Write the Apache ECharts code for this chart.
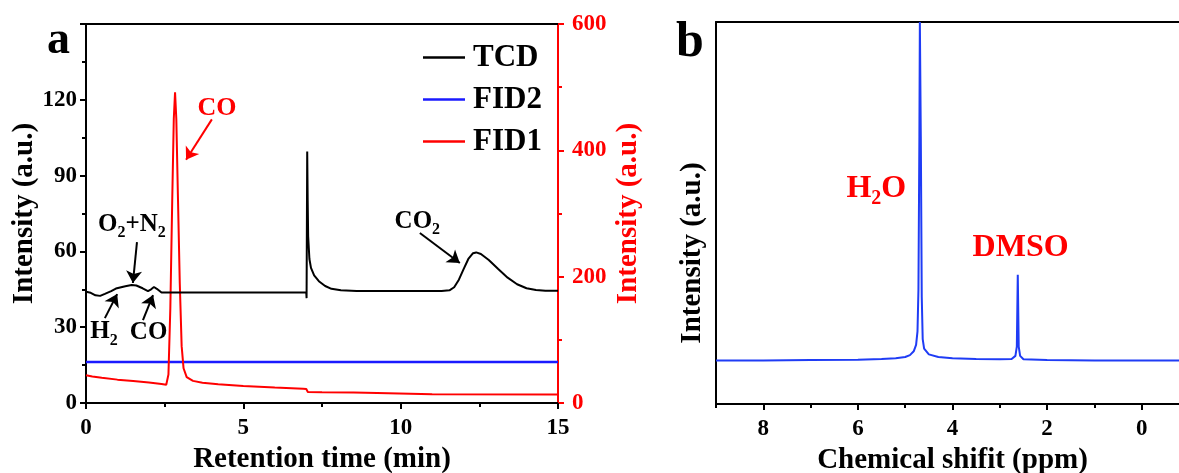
<!DOCTYPE html>
<html>
<head>
<meta charset="utf-8">
<title>GC and NMR</title>
<script src="https://cdn.jsdelivr.net/npm/echarts@6/dist/echarts.min.js"></script>
<style>
  html, body { margin: 0; padding: 0; background: #fff; }
  #chart { width: 1179px; height: 473px; }
</style>
</head>
<body>
<div id="chart"></div>
<script>
// ---- panel a: gas chromatogram (retention time in min) ----
const tcdTime = [0.00, 0.15, 0.30, 0.45, 0.60, 0.80, 0.95, 1.05, 1.25, 1.45, 1.60, 1.80, 1.97, 2.07, 2.16, 2.25, 2.40, 2.60, 4.00, 5.50, 7.00,
  7.01, 7.02, 7.03, 7.045, 7.06, 7.10, 7.15, 7.25, 7.40, 7.60, 7.80, 8.10, 8.60, 10.0, 11.3, 11.55, 11.7, 11.85, 12.0, 12.15, 12.3, 12.4,
  12.55, 12.8, 13.1, 13.4, 13.7, 14.0, 14.3, 14.6, 15.0];
const tcdSignal = [44.0, 43.6, 42.6, 42.4, 43.2, 44.3, 45.3, 45.6, 46.2, 46.7, 46.5, 45.4, 44.3, 45.0, 45.9, 45.2, 43.7, 43.7, 43.7, 43.7, 43.7,
  41.5, 41.5, 99.5, 80, 66, 57, 53.5, 50.5, 48.2, 46.3, 45.2, 44.6, 44.3, 44.3, 44.3, 44.6, 45.8, 48.8, 53.0, 57.0, 59.3, 59.6,
  59.0, 56.6, 53.0, 49.6, 47.0, 45.4, 44.7, 44.4, 44.4];

const fid1Time = [0.00, 0.2, 0.5, 1.0, 1.5, 2.0, 2.4, 2.55, 2.62, 2.68, 2.74, 2.79, 2.83, 2.87, 2.92, 2.98, 3.04, 3.10, 3.2, 3.4, 3.7,
  4.2, 5.0, 6.0, 6.9, 7.0, 7.05, 7.5, 8.5, 9.25, 9.3, 11.0, 15.0];
const fid1Signal = [44, 42, 40, 37, 35, 32.5, 30, 29, 45, 150, 320, 450, 492, 450, 330, 190, 90, 55, 41, 35, 32,
  29.5, 27, 24.5, 22.5, 22, 17.5, 17, 16.5, 16, 14, 13.7, 13.5];

const fid2Time = [0, 15];
const fid2Signal = [65, 65];

// ---- panel b: 1H NMR (chemical shift in ppm) ----
const nmrShift = [9.0, 8.0, 7.0, 6.0, 5.5, 5.2, 5.0, 4.9, 4.82, 4.77, 4.74, 4.72, 4.70, 4.69, 4.68, 4.67, 4.65, 4.63, 4.60, 4.50, 4.30,
  4.00, 3.50, 3.00, 2.75, 2.67, 2.64, 2.62, 2.60, 2.57, 2.50, 2.00, 1.00, 0.00, -1.00];
const nmrSignal = [11.4, 11.4, 11.5, 11.6, 11.8, 12.0, 12.3, 12.8, 13.8, 15.5, 19, 30, 70, 100, 100, 70, 28, 17, 14.5, 13, 12.3,
  12.0, 11.8, 11.7, 11.8, 12.6, 15, 33.8, 15, 12.6, 11.7, 11.5, 11.4, 11.4, 11.4];

const shiftLabels = [8, 6, 4, 2, 0];
const shiftMinor = [9, 7, 5, 3, 1, -1];

// peak labels, in data coordinates
const gcLabels = [
  { text: '{m|O}{s|2}{m|+N}{s|2}', at: [1.46, 70.8], arrow: [[1.62, 63.7], [1.49, 47.5]] },
  { text: '{m|H}{s|2}', at: [0.57, 28.1], arrow: [[0.60, 33.6], [0.99, 43.1]] },
  { text: '{m|CO}', at: [1.99, 27.7], arrow: [[1.81, 32.8], [2.13, 42.7]] },
  { text: '{m|CO}{s|2}', at: [10.53, 72.0], arrow: [[10.61, 67.3], [11.88, 55.4]] }
];
const fidLabels = [
  { text: '{m|CO}', at: [4.16, 467], arrow: [[4.00, 449], [3.18, 385]] }
];
const nmrLabels = [
  { text: '{m|H}{s|2}{m|O}', at: [5.61, 56.3] },
  { text: '{m|DMSO}', at: [2.56, 40.8] }
];

const FONT = '"Liberation Serif", "Times New Roman", serif';
const pairs = (xs, ys) => xs.map((x, i) => [x, ys[i]]);

function richText(size, subSize, subDrop, color) {
  return {
    m: { fontSize: size, lineHeight: size, fontWeight: 'bold', fontFamily: FONT, color: color },
    s: { fontSize: subSize, lineHeight: subSize, fontWeight: 'bold', fontFamily: FONT, color: color, padding: [subDrop, 0, 0, 0] }
  };
}

function labelPoints(list, size, subSize, subDrop, color) {
  return {
    symbol: 'circle',
    symbolSize: 1,
    itemStyle: { color: 'rgba(0,0,0,0)' },
    silent: true,
    animation: false,
    label: { show: true, position: 'inside', formatter: p => p.data.text, rich: richText(size, subSize, subDrop, color) },
    data: list.map(d => ({ coord: d.at, text: d.text }))
  };
}

function arrows(list, color) {
  return {
    silent: true,
    animation: false,
    symbol: ['none', 'arrow'],
    symbolSize: 12,
    label: { show: false },
    itemStyle: { color: color },
    lineStyle: { color: color, width: 2, type: 'solid' },
    emphasis: { disabled: true },
    data: list.map(d => [{ coord: d.arrow[0] }, { coord: d.arrow[1] }])
  };
}

const tickLabel = { fontSize: 23, fontWeight: 'bold', fontFamily: FONT, color: '#000' };
const titleText = { fontSize: 29, fontWeight: 'bold', fontFamily: FONT, color: '#000' };

const chart = echarts.init(document.getElementById('chart'));
chart.setOption({
  animation: false,
  backgroundColor: '#fff',
  grid: [
    { left: 86, top: 24, width: 472, height: 379, outerBoundsMode: 'none' },
    { left: 716, top: 22, width: 473, height: 382, outerBoundsMode: 'none' }
  ],
  legend: {
    data: ['TCD', 'FID2', 'FID1'],
    orient: 'vertical',
    left: 418,
    top: 37,
    icon: 'rect',
    itemWidth: 42,
    itemHeight: 2.5,
    itemGap: 11,
    textStyle: { fontSize: 31, lineHeight: 31, fontWeight: 'bold', fontFamily: FONT, color: '#000', padding: [0, 0, 0, 3] }
  },
  xAxis: [
    {
      gridIndex: 0, type: 'value', min: 0, max: 15, interval: 5,
      name: 'Retention time (min)', nameLocation: 'middle', nameGap: 27, nameTextStyle: titleText,
      axisLine: { onZero: false, lineStyle: { color: '#000', width: 2 } },
      axisTick: { length: 6, lineStyle: { width: 2 } },
      minorTick: { show: true, splitNumber: 2, length: 4, lineStyle: { color: '#000', width: 2 } },
      axisLabel: Object.assign({ margin: 14 }, tickLabel),
      splitLine: { show: false }
    },
    {
      gridIndex: 0, type: 'value', min: 0, max: 15, position: 'top',
      axisLine: { onZero: false, lineStyle: { color: '#000', width: 2 } },
      axisTick: { show: false }, axisLabel: { show: false }, splitLine: { show: false }
    },
    {
      gridIndex: 1, type: 'value', min: -1, max: 9, inverse: true,
      name: 'Chemical shifit (ppm)', nameLocation: 'middle', nameGap: 31, nameTextStyle: titleText,
      axisLine: { onZero: false, lineStyle: { color: '#000', width: 2 } },
      axisTick: { length: 6, lineStyle: { width: 2 }, customValues: shiftLabels },
      axisLabel: Object.assign({ margin: 14, customValues: shiftLabels }, tickLabel),
      splitLine: { show: false }
    },
    {
      gridIndex: 1, type: 'value', min: -1, max: 9, inverse: true, position: 'bottom',
      axisLine: { show: false, onZero: false },
      axisTick: { length: 4, lineStyle: { color: '#000', width: 2 }, customValues: shiftMinor },
      axisLabel: { show: false }, splitLine: { show: false }
    },
    {
      gridIndex: 1, type: 'value', min: -1, max: 9, inverse: true, position: 'top',
      axisLine: { onZero: false, lineStyle: { color: '#000', width: 2 } },
      axisTick: { show: false }, axisLabel: { show: false }, splitLine: { show: false }
    }
  ],
  yAxis: [
    {
      gridIndex: 0, type: 'value', min: 0, max: 150, interval: 30,
      name: 'Intensity (a.u.)', nameLocation: 'middle', nameGap: 44, nameTextStyle: titleText,
      axisLine: { show: true, onZero: false, lineStyle: { color: '#000', width: 2 } },
      axisTick: { show: true, length: 6, lineStyle: { width: 2 } },
      minorTick: { show: true, splitNumber: 2, length: 4, lineStyle: { color: '#000', width: 2 } },
      axisLabel: Object.assign({ margin: 9, showMaxLabel: false }, tickLabel),
      splitLine: { show: false }
    },
    {
      gridIndex: 0, type: 'value', min: 0, max: 600, interval: 200, position: 'right',
      name: 'Intensity (a.u.)', nameLocation: 'middle', nameGap: 56,
      nameTextStyle: Object.assign({}, titleText, { color: '#ff0000' }),
      axisLine: { show: true, onZero: false, lineStyle: { color: '#ff0000', width: 2 } },
      axisTick: { show: true, length: 6, lineStyle: { width: 2 } },
      minorTick: { show: true, splitNumber: 2, length: 4, lineStyle: { color: '#ff0000', width: 2 } },
      axisLabel: Object.assign({}, tickLabel, { margin: 14, color: '#ff0000' }),
      splitLine: { show: false }
    },
    {
      gridIndex: 1, type: 'value', min: 0, max: 100,
      axisLine: { show: true, onZero: false, lineStyle: { color: '#000', width: 2 } },
      axisTick: { show: false }, axisLabel: { show: false }, splitLine: { show: false }
    }
  ],
  graphic: [
    { type: 'text', x: 47, y: 41, style: { text: 'a', fontSize: 46, fontWeight: 'bold', fontFamily: FONT, fill: '#000', verticalAlign: 'middle' } },
    { type: 'text', x: 676, y: 43, style: { text: 'b', fontSize: 50, fontWeight: 'bold', fontFamily: FONT, fill: '#000', verticalAlign: 'middle' } },
    { type: 'text', x: 693, y: 253, rotation: Math.PI / 2,
      style: { text: 'Intensity (a.u.)', fontSize: 29, fontWeight: 'bold', fontFamily: FONT, fill: '#000', align: 'center', verticalAlign: 'middle' } }
  ],
  series: [
    {
      name: 'TCD', type: 'line', xAxisIndex: 0, yAxisIndex: 0, symbol: 'none', z: 3,
      lineStyle: { color: '#000', width: 2 }, itemStyle: { color: '#000' },
      data: pairs(tcdTime, tcdSignal),
      markPoint: labelPoints(gcLabels, 25, 16, 18, '#000'),
      markLine: arrows(gcLabels, '#000')
    },
    {
      name: 'FID2', type: 'line', xAxisIndex: 0, yAxisIndex: 1, symbol: 'none', z: 2,
      lineStyle: { color: '#1a1aff', width: 2.5 }, itemStyle: { color: '#1a1aff' },
      data: pairs(fid2Time, fid2Signal)
    },
    {
      name: 'FID1', type: 'line', xAxisIndex: 0, yAxisIndex: 1, symbol: 'none', z: 2,
      lineStyle: { color: '#ff0000', width: 2 }, itemStyle: { color: '#ff0000' },
      data: pairs(fid1Time, fid1Signal),
      markPoint: labelPoints(fidLabels, 26, 16, 18, '#ff0000'),
      markLine: arrows(fidLabels, '#ff0000')
    },
    {
      name: 'NMR', type: 'line', xAxisIndex: 2, yAxisIndex: 2, symbol: 'none',
      lineStyle: { color: '#1f3cf5', width: 2 }, itemStyle: { color: '#1f3cf5' },
      data: pairs(nmrShift, nmrSignal),
      markPoint: labelPoints(nmrLabels, 32, 20, 20, '#ff0000')
    }
  ]
});
</script>
</body>
</html>
